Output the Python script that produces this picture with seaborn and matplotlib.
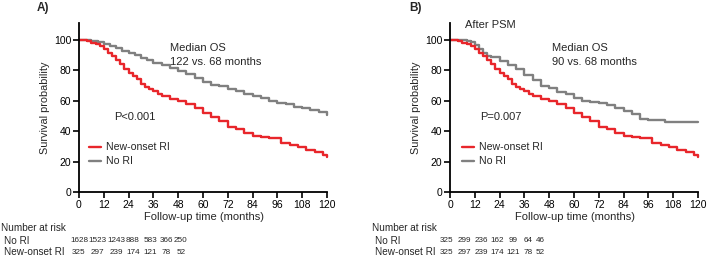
import matplotlib
matplotlib.use("Agg")
import matplotlib.pyplot as plt
import seaborn as sns
import pandas as pd

sns.set_theme(style="ticks")
plt.rcParams['font.family'] = ['Liberation Sans', 'DejaVu Sans']

# ---- data ----
noRI_A_t = [0, 3, 6, 9, 12, 15, 18, 21, 24, 27, 30, 33, 36, 40, 44, 48, 52, 56, 60, 64,
            68, 72, 76, 80, 84, 88, 92, 96, 100, 104, 108, 112, 116, 120]
noRI_A_s = [100, 99.8, 99.3, 98.5, 97.2, 95.8, 94.4, 92.8, 91.3, 89.8, 88.2, 86.6, 85, 83.2,
            81.4, 79.6, 77.8, 75, 72, 70.5, 69.5, 67.5, 66.2, 64.5, 62.8, 61.8, 60, 58.2,
            57.5, 55.8, 55.3, 54, 52.5, 50.8]

newRI_t = [0, 2, 4, 6, 8, 10, 12, 14, 16, 18, 20, 22, 24, 26, 28, 30, 32, 34, 36, 38, 40, 44,
           48, 52, 56, 60, 64, 68, 72, 76, 80, 84, 88, 92, 96, 98, 102, 106, 110, 114, 118, 120]
newRI_s = [100, 99.8, 99, 98, 97, 95.8, 94, 91.5, 89, 86.8, 84, 81, 78, 76, 74.5, 71, 69, 67.5,
           66.5, 64.5, 63, 61, 59.8, 57.5, 55.5, 52, 49.5, 46.5, 43, 41.5, 39, 36.5, 35.8, 35.6,
           35.2, 32, 30.8, 29.8, 27.5, 26, 24.5, 23]

noRI_B_t = [0, 4, 8, 10, 12, 14, 16, 18, 20, 24, 28, 32, 36, 40, 44, 48, 52, 56, 60, 64, 68,
            72, 76, 80, 84, 88, 92, 96, 100, 104, 108, 112, 116, 120]
noRI_B_s = [100, 99.8, 99, 98.3, 96.5, 94, 91, 89.5, 88.5, 86, 83.5, 80.5, 77, 73.5, 69.5, 68,
            66, 64.5, 62, 60, 59, 58.2, 57, 55, 53.2, 51, 47.8, 47.5, 47, 46, 45.8, 45.8, 45.8, 46]

xticks = [0, 12, 24, 36, 48, 60, 72, 84, 96, 108, 120]
yticks = [0, 20, 40, 60, 80, 100]

risk_A_noRI = ["1628", "1523", "1243", "888", "583", "366", "250"]
risk_A_new = ["325", "297", "239", "174", "121", "78", "52"]
risk_B_noRI = ["325", "299", "236", "162", "99", "64", "46"]
risk_B_new = ["325", "297", "239", "174", "121", "78", "52"]

RED = "#e8262b"
GRAY = "#808080"
NUM_SIZE = 5.9

W, H = 709, 259
fig = plt.figure(figsize=(W / 100, H / 100), dpi=100)


def fx(px):
    return px / W


def fy(py):
    return 1 - py / H


def panel(left_px, right_px, gray_t, gray_s, letter, letter_x, pval, median, med_x,
          pval_x, leg_x, extra=None):
    ax = fig.add_axes([fx(left_px), fy(192), fx(right_px - left_px), (192 - 23) / H])
    df_red = pd.DataFrame({"t": newRI_t, "s": newRI_s})
    df_gray = pd.DataFrame({"t": gray_t, "s": gray_s})
    sns.lineplot(data=df_gray, x="t", y="s", ax=ax, color=GRAY, lw=1.7,
                 drawstyle="steps-post", estimator=None, sort=False)
    sns.lineplot(data=df_red, x="t", y="s", ax=ax, color=RED, lw=1.7,
                 drawstyle="steps-post", estimator=None, sort=False)
    ax.set_xlim(0, 121)
    ax.set_ylim(0, 111)
    ax.set_xticks(xticks)
    ax.set_yticks(yticks)
    ax.tick_params(labelsize=7.5, width=1.2, length=4, pad=1.5, colors="black")
    for s in ["top", "right"]:
        ax.spines[s].set_visible(False)
    for s in ["left", "bottom"]:
        ax.spines[s].set_linewidth(1.3)
        ax.spines[s].set_color("black")
    ax.spines["bottom"].set_bounds(0, 120)
    ax.spines["left"].set_bounds(0, 111)
    ax.set_xlabel("")
    ax.set_ylabel("Survival probability", fontsize=7.8, labelpad=3)
    fig.text(fx(letter_x), fy(8), letter, fontsize=8.5, fontweight="bold", va="center")
    fig.text(fx((left_px + right_px) / 2), fy(217), "Follow-up time (months)", fontsize=8,
             ha="center", va="center")
    fig.text(fx(med_x), fy(48), "Median OS", fontsize=8, va="center")
    fig.text(fx(med_x), fy(62), median, fontsize=8, va="center")
    fig.text(fx(pval_x), fy(117), pval, fontsize=8, va="center")
    # legend
    for yy, col, lab in [(147, RED, "New-onset RI"), (161, GRAY, "No RI")]:
        fig.add_artist(plt.Line2D([fx(leg_x), fx(leg_x + 12)], [fy(yy), fy(yy)],
                                  color=col, lw=1.7))
        fig.text(fx(leg_x + 17), fy(yy), lab, fontsize=7.6, va="center")
    if extra:
        fig.text(fx(extra[0]), fy(extra[1]), extra[2], fontsize=8, va="center")
    return ax


panel(79, 329, noRI_A_t, noRI_A_s, "A)", 37, "P<0.001", "122 vs. 68 months",
      170, 114, 89)
panel(450, 700, noRI_B_t, noRI_B_s, "B)", 409, "P=0.007", "90 vs. 68 months",
      552, 480, 462, extra=(465, 25, "After PSM"))


# number at risk tables
def risk_table(x0, label_x, num_centers, row1, row2):
    fig.text(fx(x0), fy(228), "Number at risk", fontsize=7.2, va="center")
    fig.text(fx(label_x), fy(241), "No RI", fontsize=7.2, va="center")
    fig.text(fx(label_x), fy(252), "New-onset RI", fontsize=7.2, va="center")
    for cx, a, b in zip(num_centers, row1, row2):
        fig.text(fx(cx), fy(241), a, fontsize=NUM_SIZE, va="center", ha="center")
        fig.text(fx(cx), fy(252), b, fontsize=NUM_SIZE, va="center", ha="center")


risk_table(1, 4, [79, 97.5, 116, 133, 150, 166, 181], risk_A_noRI, risk_A_new)
risk_table(372, 375, [447, 464, 481, 497, 513, 528, 540], risk_B_noRI, risk_B_new)

fig.savefig("out.png", dpi=100)
